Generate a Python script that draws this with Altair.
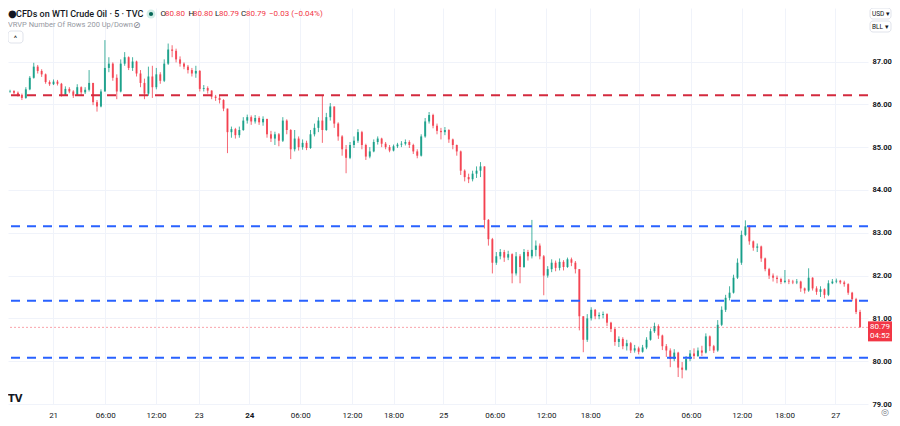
import altair as alt
import pandas as pd

# ---------------- data (bar index i = 0..216, each bar ~20 min of the 5-min series) -------------
first_open = 86.28
closes = [86.30, 86.31, 86.27, 86.22, 86.15, 86.35, 86.62, 86.88, 86.78, 86.70,
          86.52, 86.47, 86.53, 86.48, 86.22, 86.36, 86.30, 86.20, 86.40, 86.28,
          86.34, 86.50, 86.05, 85.95, 86.30, 86.85, 86.95, 86.62, 86.30, 86.95,
          87.10, 86.85, 87.00, 86.72, 86.50, 86.25, 86.65, 86.40, 86.70, 86.55,
          86.95, 87.28, 87.25, 87.05, 86.95, 86.88, 86.80, 86.72, 86.78, 86.36,
          86.38, 86.32, 86.18, 86.15, 86.10, 85.90, 85.35, 85.42, 85.28, 85.40,
          85.62, 85.70, 85.60, 85.68, 85.58, 85.66, 85.30, 85.20, 85.30, 85.15,
          85.62, 85.40, 84.95, 85.20, 85.00, 85.10, 84.98, 85.30, 85.45, 85.62,
          85.40, 85.70, 85.95, 85.55, 85.25, 84.95, 84.75, 85.05, 85.15, 85.35,
          85.05, 84.78, 84.90, 85.12, 85.20, 85.08, 85.00, 84.92, 85.02, 85.06,
          85.08, 85.12, 85.05, 84.90, 84.80, 85.25, 85.60, 85.75, 85.50, 85.38,
          85.35, 85.40, 85.18, 85.05, 84.90, 84.45, 84.30, 84.25, 84.38, 84.45,
          84.55, 83.30, 82.85, 82.30, 82.45, 82.55, 82.42, 82.50, 82.05, 82.45,
          82.20, 82.55, 82.45, 82.60, 82.70, 82.45, 82.00, 82.15, 82.30, 82.18,
          82.32, 82.20, 82.38, 82.30, 82.15, 81.05, 80.50, 81.00, 81.20, 81.05,
          81.08, 81.10, 80.90, 80.75, 80.45, 80.52, 80.35, 80.42, 80.25, 80.30,
          80.22, 80.32, 80.50, 80.70, 80.82, 80.60, 80.35, 80.25, 80.05, 80.20,
          79.85, 79.80, 80.05, 80.18, 80.12, 80.25, 80.20, 80.58, 80.35, 80.25,
          80.85, 81.20, 81.48, 81.60, 81.95, 82.30, 82.95, 83.15, 82.80, 82.65,
          82.68, 82.40, 82.15, 82.00, 81.95, 81.92, 81.85, 81.88, 81.86, 81.84,
          81.86, 81.70, 81.65, 81.95, 81.70, 81.62, 81.68, 81.55, 81.82, 81.86,
          81.88, 81.84, 81.80, 81.60, 81.45, 81.15, 80.79]
highs = [86.33, 86.34, 86.33, 86.30, 86.25, 86.40, 86.66, 86.97, 86.92, 86.82,
         86.72, 86.56, 86.58, 86.57, 86.50, 86.42, 86.40, 86.33, 86.47, 86.42,
         86.40, 86.80, 86.50, 86.10, 86.35, 87.50, 87.10, 86.98, 86.70, 87.05,
         87.22, 87.12, 87.10, 87.02, 86.80, 86.60, 86.88, 86.90, 86.85, 86.75,
         87.05, 87.42, 87.38, 87.30, 87.12, 86.98, 86.92, 86.85, 86.90, 86.80,
         86.45, 86.42, 86.33, 86.22, 86.20, 86.12, 85.90, 85.48, 85.45, 85.48,
         85.70, 85.76, 85.74, 85.75, 85.72, 85.72, 85.66, 85.38, 85.36, 85.33,
         85.70, 85.65, 85.42, 85.40, 85.25, 85.18, 85.15, 85.40, 85.55, 85.70,
         86.20, 85.80, 86.03, 85.95, 85.58, 85.28, 85.05, 85.12, 85.25, 85.42,
         85.38, 85.08, 85.00, 85.18, 85.25, 85.22, 85.12, 85.05, 85.06, 85.10,
         85.14, 85.18, 85.16, 85.08, 84.95, 85.30, 85.68, 85.82, 85.78, 85.55,
         85.45, 85.47, 85.42, 85.20, 85.06, 84.92, 84.48, 84.38, 84.45, 84.55,
         84.65, 84.55, 83.32, 82.88, 82.55, 82.62, 82.60, 82.58, 82.52, 82.55,
         82.50, 82.62, 82.60, 83.30, 82.82, 82.75, 82.48, 82.22, 82.38, 82.35,
         82.40, 82.36, 82.42, 82.42, 82.34, 82.15, 81.05, 81.10, 81.26, 81.22,
         81.14, 81.16, 81.12, 80.92, 80.78, 80.58, 80.56, 80.50, 80.45, 80.38,
         80.34, 80.38, 80.56, 80.76, 80.90, 80.86, 80.62, 80.40, 80.30, 80.28,
         80.22, 79.98, 80.12, 80.26, 80.30, 80.32, 80.36, 80.65, 80.60, 80.38,
         80.96, 81.28, 81.55, 81.75, 82.02, 82.40, 83.05, 83.29, 83.18, 82.82,
         82.75, 82.70, 82.42, 82.18, 82.05, 82.00, 81.95, 82.13, 81.92, 81.90,
         81.92, 81.88, 81.72, 82.17, 81.96, 81.75, 81.75, 81.70, 81.89, 81.92,
         81.93, 81.90, 81.88, 81.82, 81.62, 81.48, 81.20]
lows = [86.25, 86.27, 86.24, 86.18, 86.10, 86.13, 86.33, 86.60, 86.72, 86.64,
        86.48, 86.43, 86.45, 86.44, 86.18, 86.20, 86.26, 86.15, 86.20, 86.22,
        86.24, 86.30, 85.98, 85.83, 85.93, 86.30, 86.75, 86.55, 86.12, 86.28,
        86.90, 86.80, 86.78, 86.65, 86.40, 86.12, 86.20, 86.15, 86.35, 86.48,
        86.52, 86.92, 87.10, 86.98, 86.88, 86.82, 86.72, 86.65, 86.62, 86.30,
        86.30, 86.25, 86.12, 86.08, 86.02, 85.84, 84.86, 85.22, 85.20, 85.22,
        85.38, 85.55, 85.52, 85.55, 85.52, 85.50, 85.22, 85.12, 85.05, 85.02,
        85.12, 85.30, 84.72, 84.90, 84.92, 84.94, 84.93, 84.96, 85.25, 85.35,
        85.10, 85.38, 85.62, 85.45, 85.15, 84.80, 84.39, 84.72, 84.98, 85.10,
        84.95, 84.70, 84.74, 84.88, 85.06, 85.00, 84.95, 84.88, 84.90, 84.98,
        85.00, 85.04, 84.98, 84.84, 84.74, 84.78, 85.22, 85.55, 85.44, 85.30,
        85.18, 85.28, 85.10, 84.95, 84.80, 84.35, 84.20, 84.16, 84.20, 84.28,
        84.30, 83.10, 82.70, 82.05, 82.25, 82.38, 82.32, 82.36, 81.82, 82.00,
        81.82, 82.18, 82.35, 82.40, 82.45, 82.38, 81.54, 81.95, 82.08, 82.10,
        82.12, 82.12, 82.18, 82.22, 82.05, 80.72, 80.21, 80.45, 80.95, 80.98,
        80.98, 81.00, 80.82, 80.68, 80.36, 80.33, 80.28, 80.25, 80.19, 80.20,
        80.16, 80.20, 80.28, 80.48, 80.66, 80.52, 80.26, 80.10, 79.86, 80.00,
        79.63, 79.60, 79.78, 80.00, 80.05, 80.10, 80.12, 80.18, 80.24, 80.19,
        80.22, 80.82, 81.15, 81.42, 81.58, 81.92, 82.25, 82.92, 82.72, 82.58,
        82.55, 82.32, 82.10, 81.92, 81.86, 81.82, 81.80, 81.82, 81.80, 81.80,
        81.80, 81.62, 81.58, 81.62, 81.65, 81.55, 81.50, 81.47, 81.52, 81.80,
        81.82, 81.80, 81.74, 81.55, 81.40, 81.10, 80.79]

tick_pos = [11.9, 25.1, 37.9, 48.75, 61.5, 74.4, 87.5, 98.0, 110.6, 123.6,
            136.6, 147.75, 160.1, 173.25, 186.1, 196.9, 209.75]
tick_lab = ["21", "06:00", "12:00", "23", "24", "06:00", "12:00", "18:00", "25",
            "06:00", "12:00", "18:00", "26", "06:00", "12:00", "18:00", "27"]
price_ticks = [79.0, 79.5, 80.0, 80.5, 81.0, 81.5, 82.0, 82.5, 83.0, 83.5,
               84.0, 84.5, 85.0, 85.5, 86.0, 86.5, 87.0, 87.5]
red_levels = [86.21]
blue_levels = [83.15, 81.41, 80.08]
last_price = [80.79]

# ---------------- build ----------------
opens = [first_open] + closes[:-1]
df = pd.DataFrame({"i": list(range(len(closes))), "open": opens, "high": highs,
                   "low": lows, "close": closes})

W, H = 860, 396
FONT = "Roboto"
UP, DOWN = "#089981", "#F23645"
GRID = "#f0f3fa"

lab_expr = "[" + ",".join("'%s'" % s for s in tick_lab) + "][indexof([" + \
    ",".join(str(v) for v in tick_pos) + "], datum.value)]"

x_scale = alt.Scale(domain=[1.75, 216.75], nice=False, zero=False)
y_scale = alt.Scale(domain=[79.0, 88.25], nice=False, zero=False)

x_enc = alt.X("i:Q", scale=x_scale, title=None,
              axis=alt.Axis(values=tick_pos, labelExpr=lab_expr, grid=True, gridColor=GRID,
                            domain=False, ticks=False, labelFont=FONT, labelFontSize=8,
                            labelColor="#131722", labelPadding=7, labelFlush=False,
                            labelOverlap=False, title=None,
                            labelFontWeight={"condition": {"test": "datum.value == 61.5", "value": "bold"},
                                             "value": "normal"}))
y_axis = alt.Axis(orient="right", values=price_ticks, format=".2f", grid=True, gridColor=GRID,
                  domain=False, ticks=False, labelFont=FONT, labelFontSize=7.5,
                  labelPadding=4, labelOverlap=False, title=None,
                  labelColor={"condition": {"test": "datum.value % 1 == 0", "value": "#131722"},
                              "value": "#50535e"},
                  labelFontWeight={"condition": {"test": "datum.value % 1 == 0", "value": "bold"},
                                   "value": "normal"})

color = alt.condition("datum.close >= datum.open", alt.value(UP), alt.value(DOWN))

base = alt.Chart(df)
wicks = base.mark_rule(strokeWidth=1, opacity=0.75, clip=True).encode(
    x=x_enc, y=alt.Y("low:Q", scale=y_scale, axis=y_axis, title=None),
    y2="high:Q", color=color)
bodies = base.mark_bar(width=2.0, opacity=0.8, clip=True).encode(
    x=alt.X("i:Q", title=None), y=alt.Y("open:Q", title=None), y2="close:Q", color=color)

red_df = pd.DataFrame({"lvl": red_levels})
blue_df = pd.DataFrame({"lvl": blue_levels})
red_lines = alt.Chart(red_df).mark_rule(color="#d32a3e", strokeWidth=2, strokeDash=[9, 7]).encode(
    y=alt.Y("lvl:Q", title=None))
blue_lines = alt.Chart(blue_df).mark_rule(color="#2962ff", strokeWidth=2, strokeDash=[9, 7]).encode(
    y=alt.Y("lvl:Q", title=None))

lp_df = pd.DataFrame({"p": last_price})
lp_line = alt.Chart(lp_df).mark_rule(color=DOWN, strokeWidth=1, strokeDash=[2, 2], opacity=0.45).encode(
    y=alt.Y("p:Q", title=None))
TAG_X = W + 12
tag = alt.Chart(lp_df).mark_point(shape="M-1.2,-1H1.2V1H-1.2Z", size=400, filled=True,
                                  color=DOWN, opacity=1, strokeWidth=0, yOffset=4).encode(
    x=alt.value(TAG_X), y=alt.Y("p:Q", title=None))
tag_price = alt.Chart(lp_df).mark_text(color="white", fontSize=8, font=FONT, align="center",
                                       baseline="middle").encode(
    x=alt.value(TAG_X), y=alt.Y("p:Q", title=None), text=alt.Text("p:Q", format=".2f"))
tag_time = alt.Chart(lp_df).mark_text(text="04:52", color="white", fontSize=8, font=FONT,
                                      align="center", baseline="middle", dy=9).encode(
    x=alt.value(TAG_X), y=alt.Y("p:Q", title=None))

one = pd.DataFrame({"k": [0]})


def txt(s, x, y, size=8, color="#131722", weight="normal", align="left", font=FONT):
    return alt.Chart(one).mark_text(text=s, align=align, baseline="middle", fontSize=size,
                                    color=color, fontWeight=weight, font=font).encode(
        x=alt.value(x), y=alt.value(y))


def box(x1, x2, y1, y2):
    return alt.Chart(one).mark_rect(fill="white", stroke="#e0e3eb", strokeWidth=1,
                                    cornerRadius=3).encode(
        x=alt.value(x1), x2=alt.value(x2), y=alt.value(y1), y2=alt.value(y2))


def dot(x, y, size, color, opacity=1.0):
    return alt.Chart(one).mark_point(shape="circle", filled=True, size=size, color=color,
                                     opacity=opacity, strokeWidth=0).encode(
        x=alt.value(x), y=alt.value(y))


header = [
    txt("●", 0, 6, size=10, font="DejaVu Sans"),
    txt("CFDs on WTI Crude Oil · 5 · TVC", 8, 6, size=9, weight=500),
    dot(143, 6, 80, UP, 0.18),
    dot(143, 6, 18, "#056656"),
    txt("O", 152.5, 6), txt("80.80", 157, 6, color=DOWN),
    txt("H", 180.5, 6), txt("80.80", 185, 6, color=DOWN),
    txt("L", 207, 6), txt("80.79", 211, 6, color=DOWN),
    txt("C", 233, 6), txt("80.79", 238, 6, color=DOWN),
    txt("−0.03 (−0.04%)", 261, 6, color=DOWN),
    txt("VRVP Number Of Rows 200 Up/Down", 0, 16.5, size=7.5, color="#9598a1"),
    txt("⊘", 125, 16.5, size=9, color="#787b86", font="DejaVu Sans"),
    box(0, 15, 23, 35),
    txt("^", 7.5, 31, size=8, align="center"),
    box(862, 883, 0, 11),
    txt("USD ▾", 864, 5.5, size=6.5),
    box(862, 883, 13, 24),
    txt("BLL ▾", 864, 18.5, size=6.5),
    txt("TV", 0, 391, size=10, weight="bold", font="DejaVu Sans"),
    txt("◎", 877, 404, size=9, color="#787b86", align="center", font="DejaVu Sans"),
]

chart = alt.layer(wicks, bodies, red_lines, blue_lines, lp_line, tag, tag_price, tag_time,
                  *header).properties(
    width=W, height=H,
    padding={"left": 0, "top": 0, "right": 24, "bottom": 14},
    autosize=alt.AutoSizeParams(type="none"),
    background="white",
).configure_view(strokeWidth=0)

chart.save("out.html", embed_options={"renderer": "svg", "actions": False})
